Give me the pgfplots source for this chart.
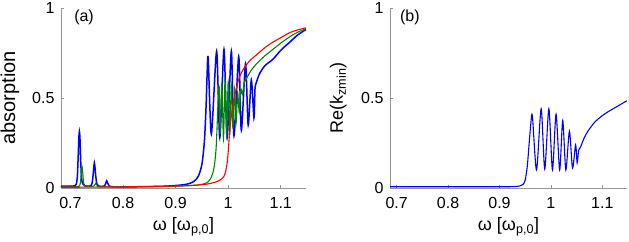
\documentclass[border=0pt]{standalone}
\usepackage{pgfplots}
\pgfplotsset{compat=1.18}
\usepackage{fontspec}
\setmainfont{Liberation Sans}
\definecolor{cblue}{RGB}{0,0,255}
\definecolor{cgreen}{RGB}{0,135,0}
\definecolor{cred}{RGB}{255,0,0}
\definecolor{axgray}{RGB}{150,150,150}
\pgfplotsset{
  mystyle/.style={
    scale only axis,
    anchor=south west,
    height=180pt,
    ymin=0, ymax=1,
    axis lines*=left,
    axis line style={axgray, line width=0.8pt},
    tick style={axgray, line width=0.8pt},
    tick align=inside,
    major tick length=3pt,
    xtick={0.7,0.8,0.9,1,1.1},
    ytick={0,0.5,1},
    /pgf/number format/assume math mode=true,
    ticklabel style={font=\fontsize{16}{18}\selectfont},
    yticklabel style={xshift=-3pt},
    xticklabel style={yshift=-6pt},
    label style={font=\fontsize{18}{20}\selectfont},
    xlabel={ω [ω\textsubscript{p,0}]},
    xlabel style={at={(axis description cs:0.5,-0.215)}, anchor=center},
  }
}
\begin{document}
\begin{tikzpicture}[x=1pt,y=1pt]
\path[use as bounding box] (0,0) rectangle (629,241);
\begin{axis}[mystyle, at={(61pt,53pt)}, width=245pt, xmin=0.682, xmax=1.148,
  ylabel={absorption},
  ylabel style={at={(axis description cs:-0.208,0.5)}, anchor=center, font=\fontsize{20}{22}\selectfont}]
\addplot[cblue, line width=1.5pt, smooth, tension=0.45] coordinates {
(0.682,0.010) (0.700,0.010) (0.708,0.012) (0.711,0.020) (0.713,0.06) (0.7145,0.16) (0.716,0.28) (0.717,0.313) (0.718,0.28) (0.7195,0.15) (0.721,0.06) (0.723,0.025) (0.727,0.012) (0.733,0.010) (0.739,0.013) (0.741,0.025) (0.743,0.07) (0.7445,0.12) (0.7455,0.14) (0.7465,0.12) (0.748,0.07) (0.750,0.025) (0.753,0.012) (0.760,0.009) (0.765,0.012) (0.767,0.025) (0.769,0.04) (0.771,0.025) (0.774,0.010) (0.780,0.007) (0.800,0.006) (0.850,0.008) (0.880,0.010) (0.900,0.014) (0.915,0.018) (0.925,0.024) (0.932,0.032) (0.938,0.045) (0.943,0.065) (0.947,0.095) (0.951,0.15) (0.955,0.27) (0.958,0.46) (0.960,0.64) (0.962,0.72) (0.968,0.30) (0.978,0.76) (0.984,0.28) (0.992,0.77) (0.998,0.28) (1.006,0.76) (1.011,0.29) (1.020,0.73) (1.025,0.32) (1.033,0.69) (1.038,0.35) (1.044,0.60) (1.049,0.39) (1.051,0.55) (1.054,0.59) (1.060,0.637) (1.070,0.68) (1.085,0.715) (1.100,0.765) (1.117,0.81) (1.132,0.85) (1.148,0.88)
};
\addplot[cgreen, line width=1.1pt, smooth, tension=0.45] coordinates {
(0.682,0.006) (0.712,0.007) (0.717,0.012) (0.719,0.03) (0.7205,0.08) (0.722,0.118) (0.7235,0.08) (0.725,0.03) (0.728,0.012) (0.740,0.008) (0.745,0.012) (0.748,0.026) (0.751,0.012) (0.756,0.007) (0.800,0.006) (0.900,0.010) (0.940,0.016) (0.955,0.024) (0.962,0.035) (0.967,0.055) (0.971,0.085) (0.974,0.13) (0.977,0.22) (0.979,0.35) (0.981,0.50) (0.983,0.56) (0.985,0.30) (0.988,0.58) (0.991,0.27) (0.994,0.60) (0.997,0.29) (1.000,0.59) (1.003,0.30) (1.006,0.57) (1.009,0.33) (1.012,0.55) (1.015,0.36) (1.018,0.53) (1.021,0.42) (1.024,0.55) (1.027,0.52) (1.031,0.59) (1.035,0.61) (1.044,0.655) (1.054,0.69) (1.070,0.735) (1.085,0.77) (1.100,0.805) (1.117,0.84) (1.132,0.865) (1.148,0.885)
};
\addplot[cred, line width=1.1pt, smooth, tension=0.45] coordinates {
(0.682,0.004) (0.750,0.005) (0.850,0.008) (0.900,0.011) (0.940,0.016) (0.960,0.022) (0.975,0.032) (0.985,0.045) (0.991,0.06) (0.995,0.09) (0.998,0.14) (1.000,0.20) (1.002,0.28) (1.004,0.35) (1.007,0.42) (1.011,0.49) (1.016,0.56) (1.022,0.62) (1.031,0.67) (1.042,0.71) (1.054,0.74) (1.070,0.78) (1.085,0.81) (1.100,0.835) (1.117,0.863) (1.132,0.878) (1.148,0.89)
};
\node[font=\fontsize{16}{18}\selectfont] at (axis description cs:0.094,0.95) {(a)};
\end{axis}
\begin{axis}[mystyle, at={(390pt,53pt)}, width=237pt, xmin=0.687, xmax=1.148,
  ylabel={Re(k\textsubscript{zmin})},
  ylabel style={at={(axis description cs:-0.219,0.5)}, anchor=center}]
\addplot[cblue, line width=1.1pt, smooth, tension=0.45] coordinates {
(0.687,0.007) (0.900,0.007) (0.930,0.008) (0.940,0.012) (0.946,0.02) (0.950,0.045) (0.954,0.12) (0.958,0.26) (0.961,0.36) (0.964,0.40) (0.972,0.10) (0.981,0.44) (0.988,0.105) (0.996,0.44) (1.003,0.10) (1.010,0.41) (1.017,0.10) (1.023,0.375) (1.029,0.10) (1.036,0.315) (1.042,0.11) (1.048,0.24) (1.051,0.14) (1.054,0.21) (1.058,0.23) (1.065,0.28) (1.073,0.32) (1.085,0.365) (1.099,0.40) (1.112,0.425) (1.124,0.445) (1.136,0.465) (1.148,0.485)
};
\node[font=\fontsize{16}{18}\selectfont] at (axis description cs:0.084,0.95) {(b)};
\end{axis}
\end{tikzpicture}
\end{document}
